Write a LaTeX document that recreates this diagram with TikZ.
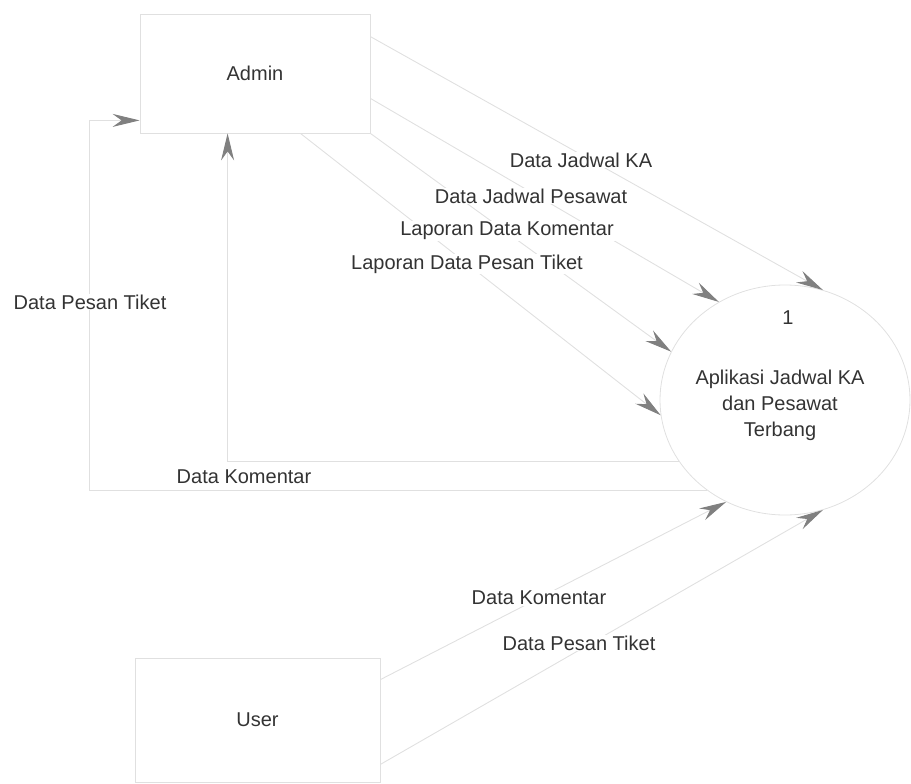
\documentclass[tikz,border=0pt]{standalone}
\usepackage{fontspec}
\setmainfont{Liberation Sans}
\usetikzlibrary{arrows.meta,shapes.geometric,calc}
\definecolor{linegray}{HTML}{E0E0E0}
\definecolor{tipgray}{HTML}{808080}
\definecolor{txtgray}{HTML}{333333}
\begin{document}
\begin{tikzpicture}[x=1pt,y=-1pt,
  every node/.style={font=\fontsize{20}{26}\selectfont, text=txtgray},
  entity/.style={draw=linegray, line width=0.8pt, minimum width=230pt,
    minimum height=119pt, inner sep=0pt},
  procshape/.style={ellipse, draw=linegray, line width=0.8pt,
    minimum width=250pt, minimum height=230pt, inner sep=0pt},
  flow/.style={draw=linegray, line width=0.9pt,
    -{Stealth[length=27pt,width=13pt,inset=9pt,color=tipgray]}},
  flowlabel/.style={fill=white, inner sep=1pt}]
\useasboundingbox (0,0) rectangle (911,784);

% external entities and the process
\node[entity] (admin) at (255,73.5) {Admin};
\node[entity, minimum width=245pt, minimum height=124pt] (user) at (257.5,720) {User};
\node[procshape] (proc) at (785,400) {};
\node (pnum) at (788,318) {1};
\node[align=center] (pname) at (780,405) {Aplikasi Jadwal KA\\dan Pesawat\\Terbang};

% attachment points on the entity borders
\coordinate (aKA)  at ([yshift=-23pt]admin.north east);
\coordinate (aPes) at ([yshift=35pt]admin.south east);
\coordinate (aKom) at (admin.south east);
\coordinate (aTik) at ([xshift=-70pt]admin.south east);
\coordinate (aIn)  at ([yshift=13pt]admin.south west);
\coordinate (aUp)  at ([xshift=88pt]admin.south west);
\coordinate (uKom) at ([yshift=-22pt]user.north east);
\coordinate (uTik) at ([yshift=18pt]user.south east);

% data flows from Admin
\draw[flow] (aKA)  -- (proc.71);
\draw[flow] (aPes) -- (proc.124);
\draw[flow] (aKom) -- (proc.157);
\draw[flow] (aTik) -- (proc.187);

% data flows back to Admin
\draw[flow] (proc.210.6) -| (aUp);
\draw[flow] (proc.229) -| ([xshift=-50pt]aIn) -- (aIn);

% data flows from User
\draw[flow] (uKom) -- (proc.240);
\draw[flow] (uTik) -- (proc.289);

% flow labels
\node[flowlabel] (l1) at (581,160) {Data Jadwal KA};
\node[flowlabel] (l2) at (531,196) {Data Jadwal Pesawat};
\node[flowlabel] (l3) at (507,231) {Laporan Data Komentar};
\node[flowlabel] (l4) at (467,264) {Laporan Data Pesan Tiket};
\node[flowlabel] (l5) at (90,302) {Data Pesan Tiket};
\node[flowlabel] (l6) at (244,477) {Data Komentar};
\node[flowlabel] (l7) at (539,598) {Data Komentar};
\node[flowlabel] (l8) at (579,643) {Data Pesan Tiket};
\end{tikzpicture}
\end{document}
